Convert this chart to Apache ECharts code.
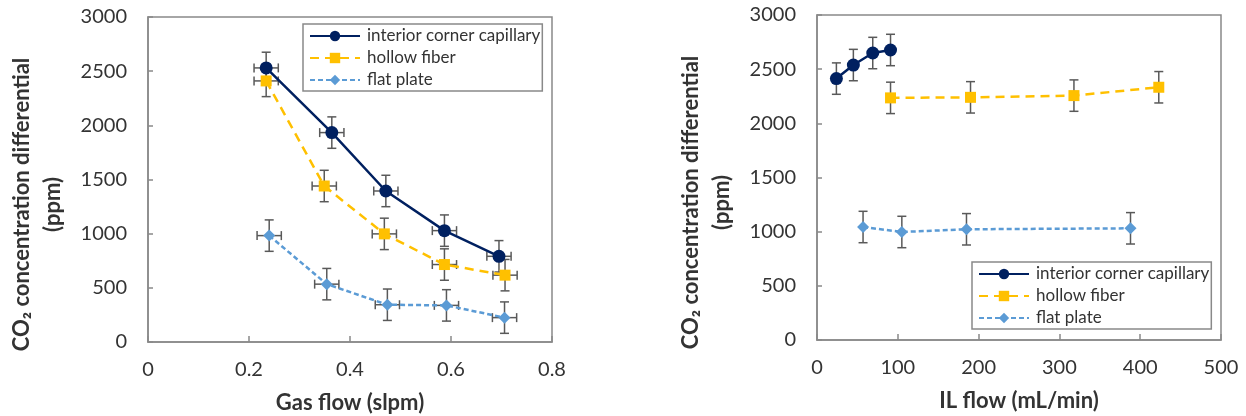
<!DOCTYPE html>
<html>
<head>
<meta charset="utf-8">
<script src="https://cdn.jsdelivr.net/npm/echarts@6/dist/echarts.min.js"></script>
<style>
  html, body { margin: 0; padding: 0; background: #fff; }
  #chart { width: 1246px; height: 416px; }
</style>
</head>
<body>
<div id="chart"></div>
<script>
// left panel: CO2 differential vs gas flow
const gasFlowCap = [0.234, 0.364, 0.471, 0.587, 0.695]
const capGas = [2530, 1933, 1394, 1028, 791]
const gasFlowFiber = [0.234, 0.349, 0.468, 0.587, 0.707]
const fiberGas = [2410, 1440, 998, 715, 617]
const gasFlowPlate = [0.240, 0.354, 0.474, 0.591, 0.706]
const plateGas = [982, 534, 344, 338, 225]

// right panel: CO2 differential vs IL flow
const ilFlowCap = [24, 45, 69, 91]
const capIL = [2413, 2538, 2649, 2677]
const ilFlowFiber = [91, 190, 318, 423]
const fiberIL = [2235, 2240, 2256, 2333]
const ilFlowPlate = [57, 105, 185, 388]
const plateIL = [1043, 997, 1022, 1031]

// error bar half-widths
const ppmErr = 145
const gasFlowErr = 0.024

const seriesNames = ["interior corner capillary", "hollow fiber", "flat plate"]

const FONT = "Lato"
const TEXT = "#333333"
const AXIS = "#898989"
const ERR = "#595959"

const chart = echarts.init(document.getElementById("chart"))

function seg(x1, y1, x2, y2) {
  return {
    type: "line",
    shape: { x1, y1, x2, y2 },
    style: { stroke: ERR, lineWidth: 1.5 }
  }
}

function errorBars(xs, ys, xErr, yErr, idx) {
  return {
    type: "custom",
    xAxisIndex: idx,
    yAxisIndex: idx,
    silent: true,
    z: 1,
    data: xs.map((x, i) => [x, ys[i], xErr, yErr]),
    encode: { x: 0, y: 1 },
    renderItem: (params, api) => {
      const x = api.value(0)
      const y = api.value(1)
      const dx = api.value(2)
      const dy = api.value(3)
      const cap = 4.5
      const top = api.coord([x, y + dy])
      const bot = api.coord([x, y - dy])
      const children = [
        seg(top[0], top[1], bot[0], bot[1]),
        seg(top[0] - cap, top[1], top[0] + cap, top[1]),
        seg(bot[0] - cap, bot[1], bot[0] + cap, bot[1])
      ]
      if (dx > 0) {
        const l = api.coord([x - dx, y])
        const r = api.coord([x + dx, y])
        children.push(seg(l[0], l[1], r[0], r[1]))
        children.push(seg(l[0], l[1] - cap, l[0], l[1] + cap))
        children.push(seg(r[0], r[1] - cap, r[0], r[1] + cap))
      }
      return { type: "group", children }
    }
  }
}

function lineSeries(name, xs, ys, idx) {
  const styles = {
    "interior corner capillary": { color: "#002060", symbol: "circle", size: 13, type: "solid", z: 4 },
    "hollow fiber": { color: "#FFC000", symbol: "rect", size: 11, type: [9, 6], z: 3 },
    "flat plate": { color: "#5B9BD5", symbol: "diamond", size: 12, type: [5, 3], z: 2 }
  }
  const s = styles[name]
  return {
    name,
    type: "line",
    xAxisIndex: idx,
    yAxisIndex: idx,
    z: s.z,
    data: xs.map((x, i) => [x, ys[i]]),
    symbol: s.symbol,
    symbolSize: s.size,
    itemStyle: { color: s.color },
    lineStyle: { color: s.color, width: 2.5, type: s.type },
    emphasis: { disabled: true }
  }
}

function yAxisOf(idx) {
  return {
    type: "value",
    gridIndex: idx,
    min: 0,
    max: 3000,
    interval: 500,
    name: "CO\u2082 concentration differential\n(ppm)",
    nameLocation: "middle",
    nameRotate: 90,
    nameGap: 80,
    nameTextStyle: { fontFamily: FONT, fontWeight: "bold", fontSize: 22, color: TEXT, lineHeight: 31, padding: [0, 50, 0, 0] },
    axisLine: { show: true, lineStyle: { color: AXIS, width: 1.5 } },
    axisTick: { show: true, inside: true, length: 5, lineStyle: { color: AXIS, width: 1.5 } },
    axisLabel: { fontFamily: FONT, fontSize: 20, color: TEXT, margin: 21, formatter: v => String(v) },
    splitLine: { show: false }
  }
}

function xAxisOf(idx, min, max, interval, name) {
  return {
    type: "value",
    gridIndex: idx,
    min,
    max,
    interval,
    name,
    nameLocation: "middle",
    nameGap: 50,
    nameTextStyle: { fontFamily: FONT, fontWeight: "bold", fontSize: 22, color: TEXT },
    axisLine: { show: true, onZero: false, lineStyle: { color: AXIS, width: 1.5 } },
    axisTick: { show: true, inside: true, length: 6, lineStyle: { color: AXIS, width: 1.5 } },
    axisLabel: { fontFamily: FONT, fontSize: 20, color: TEXT, margin: 18 },
    splitLine: { show: false }
  }
}

function legendOf(left, top) {
  return {
    data: seriesNames,
    orient: "vertical",
    left,
    top,
    itemWidth: 50,
    itemHeight: 13,
    itemGap: 4,
    padding: [3, 2, 2, 6],
    borderColor: AXIS,
    borderWidth: 1.5,
    selectedMode: false,
    textStyle: { fontFamily: FONT, fontSize: 17, color: TEXT, lineHeight: 18, padding: [0, 0, 0, 2] }
  }
}

chart.setOption({
  animation: false,
  backgroundColor: "#ffffff",
  grid: [
    { left: 148, top: 17, width: 404, height: 325, show: true, borderColor: AXIS, borderWidth: 1.5, outerBoundsMode: "none", containLabel: false },
    { left: 817, top: 15, width: 404, height: 325, show: true, borderColor: AXIS, borderWidth: 1.5, outerBoundsMode: "none", containLabel: false }
  ],
  legend: [legendOf(303, 24), legendOf(972, 262)],
  xAxis: [
    xAxisOf(0, 0, 0.8, 0.2, "Gas flow (slpm)"),
    xAxisOf(1, 0, 500, 100, "IL flow (mL/min)")
  ],
  yAxis: [yAxisOf(0), yAxisOf(1)],
  series: [
    errorBars(gasFlowCap, capGas, gasFlowErr, ppmErr, 0),
    errorBars(gasFlowFiber, fiberGas, gasFlowErr, ppmErr, 0),
    errorBars(gasFlowPlate, plateGas, gasFlowErr, ppmErr, 0),
    lineSeries("interior corner capillary", gasFlowCap, capGas, 0),
    lineSeries("hollow fiber", gasFlowFiber, fiberGas, 0),
    lineSeries("flat plate", gasFlowPlate, plateGas, 0),
    errorBars(ilFlowCap, capIL, 0, ppmErr, 1),
    errorBars(ilFlowFiber, fiberIL, 0, ppmErr, 1),
    errorBars(ilFlowPlate, plateIL, 0, ppmErr, 1),
    lineSeries("interior corner capillary", ilFlowCap, capIL, 1),
    lineSeries("hollow fiber", ilFlowFiber, fiberIL, 1),
    lineSeries("flat plate", ilFlowPlate, plateIL, 1)
  ]
})
</script>
</body>
</html>
